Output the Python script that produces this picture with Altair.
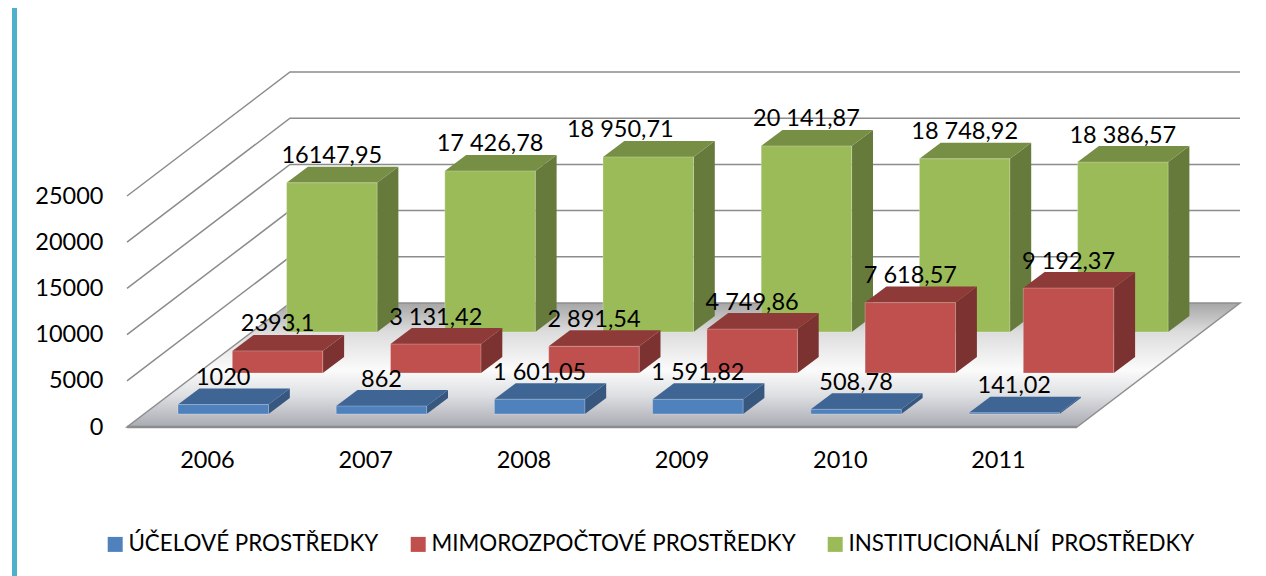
import altair as alt
import pandas as pd

YEARS = [2006, 2007, 2008, 2009, 2010, 2011]
SERIES = ["ÚČELOVÉ PROSTŘEDKY", "MIMOROZPOČTOVÉ PROSTŘEDKY", "INSTITUCIONÁLNÍ\u00a0 PROSTŘEDKY"]
BLUE = [1020, 862, 1601.05, 1591.82, 508.78, 141.02]
RED = [2393.1, 3131.42, 2891.54, 4749.86, 7618.57, 9192.37]
GREEN = [16147.95, 17426.78, 18950.71, 20141.87, 18748.92, 18386.57]
BLUE_LABELS = ["1020", "862", "1 601,05", "1 591,82", "508,78", "141,02"]
RED_LABELS = ["2393,1", "3 131,42", "2 891,54", "4 749,86", "7 618,57", "9 192,37"]
GREEN_LABELS = ["16147,95", "17 426,78", "18 950,71", "20 141,87", "18 748,92", "18 386,57"]
AXIS_VALUES = [0, 5000, 10000, 15000, 20000, 25000]
FRONT = ["#4f81bd", "#c0504d", "#9bbb59"]
TOP = ["#3e6594", "#8e3a38", "#778e45"]
SIDE = ["#37577f", "#7b3230", "#667a3b"]
LABEL_NUDGE_PX = {"18 950,71": -28}

FONT = "Lato"
W, H = 1113, 355
PX_PER_YEAR = 158.2
PX_PER_UNIT = 0.00924
XMIN = 2006 - 80 / PX_PER_YEAR
XMAX = XMIN + W / PX_PER_YEAR
YMAX = H / PX_PER_UNIT


def xu(px):
    return px / PX_PER_YEAR


def yu(px):
    return px / PX_PER_UNIT


BAR_L, BAR_W = xu(-29), xu(90.5)
BAR_DX, BAR_DY = xu(21.3), yu(16)
STEP_X, STEP_Y = xu(54.3), yu(41)
BASE0 = yu(13)
FLOOR_DX, FLOOR_DY = xu(163), yu(124)

xs = alt.Scale(domain=[XMIN, XMAX], zero=False, nice=False)
ys = alt.Scale(domain=[0, YMAX], zero=False, nice=False)

X_AXIS = alt.Axis(values=YEARS, domain=False, ticks=False, grid=False,
                  labelPadding=21, labelFontSize=23.5, labelFont=FONT, labelColor="#000000",
                  labelBound=False, labelFlush=False, labelOverlap=False, format="d")
Y_AXIS = alt.Axis(values=AXIS_VALUES, domain=False, ticks=False, grid=False,
                  labelPadding=24, labelFontSize=23.5, labelFont=FONT, labelColor="#000000",
                  labelBound=False, labelFlush=False, labelOverlap=False, format="d")


def X(field="x"):
    return alt.X(f"{field}:Q", scale=xs, axis=X_AXIS, stack=None, title=None)


def Y(field="y"):
    return alt.Y(f"{field}:Q", scale=ys, axis=Y_AXIS, stack=None, title=None)


rows_front, rows_side, rows_top, rows_text = [], [], [], []
all_vals = [BLUE, RED, GREEN]
all_labels = [BLUE_LABELS, RED_LABELS, GREEN_LABELS]
for s in range(3):
    for year, v, lab in zip(YEARS, all_vals[s], all_labels[s]):
        l = year + BAR_L + s * STEP_X
        r = l + BAR_W
        b = BASE0 + s * STEP_Y
        t = b + v
        fid = f"{s}-{year}"
        rows_front.append(dict(s=s, series=SERIES[s], x=l, x2=r, y=b, y2=t))
        rows_side.append(dict(s=s, id=fid, x=r, y=b, y2=t))
        rows_side.append(dict(s=s, id=fid, x=r + BAR_DX, y=b + BAR_DY, y2=t + BAR_DY))
        rows_top.append(dict(s=s, id=fid, y=t, x=l, x2=r))
        rows_top.append(dict(s=s, id=fid, y=t + BAR_DY, x=l + BAR_DX, x2=r + BAR_DX))
        rows_text.append(dict(x=(l + r) / 2 + xu(LABEL_NUDGE_PX.get(lab, 0)),
                              y=t + BAR_DY + yu(10.5), label=lab))

front = pd.DataFrame(rows_front)
side = pd.DataFrame(rows_side)
top = pd.DataFrame(rows_top)
text = pd.DataFrame(rows_text)

floor_df = pd.DataFrame([
    dict(y=0, x=XMIN, x2=XMAX - FLOOR_DX),
    dict(y=FLOOR_DY, x=XMIN + FLOOR_DX, x2=XMAX),
])
floor_grad = alt.Gradient(
    gradient="linear", x1=0, x2=0, y1=0, y2=1,
    stops=[
        alt.GradientStop(color="#a6a6a6", offset=0),
        alt.GradientStop(color="#dcdcdc", offset=0.23),
        alt.GradientStop(color="#fbfbfb", offset=0.54),
        alt.GradientStop(color="#dfe0e3", offset=0.74),
        alt.GradientStop(color="#a9abb3", offset=1),
    ],
)
floor = alt.Chart(floor_df).mark_area(
    orient="horizontal", color=floor_grad, stroke="#8f8f8f", strokeWidth=1.5
).encode(y=Y(), x=X(), x2="x2:Q")
edge_df = pd.DataFrame([dict(x=XMIN, y=0), dict(x=XMAX - FLOOR_DX, y=0)])
front_edge = alt.Chart(edge_df).mark_line(color="#8c8c8c", strokeWidth=2.5).encode(x=X(), y=Y())

wall_rows = []
for v in AXIS_VALUES[1:]:
    wall_rows += [dict(v=v, x=XMIN, y=v), dict(v=v, x=XMIN + FLOOR_DX, y=v + FLOOR_DY),
                  dict(v=v, x=XMAX, y=v + FLOOR_DY)]
walls = alt.Chart(pd.DataFrame(wall_rows)).mark_line(color="#8c8c8c", strokeWidth=1.5).encode(
    x=X(), y=Y(), detail="v:N"
)

accent_df = pd.DataFrame([dict(x=XMIN - xu(115), x2=XMIN - xu(110), y=YMAX + yu(72), y2=-yu(149))])
accent = alt.Chart(accent_df).mark_rect(color="#4fb0cc").encode(
    x=X(), x2="x2:Q", y=Y(), y2="y2:Q"
)

legend = alt.Legend(
    orient="none", legendX=-23, legendY=461, direction="horizontal",
    title=None, labelFont=FONT, labelFontSize=22.4, labelColor="#000000", symbolType="square",
    symbolSize=225, symbolStrokeWidth=0, labelOffset=2, columnPadding=28, labelLimit=500,
)

layers = [accent, walls, floor, front_edge]
for s in (2, 1, 0):
    layers.append(alt.Chart(side[side.s == s]).mark_area(color=SIDE[s]).encode(
        x=X(), y=Y(), y2="y2:Q", detail="id:N"))
    layers.append(alt.Chart(top[top.s == s]).mark_area(orient="horizontal", color=TOP[s]).encode(
        y=Y(), x=X(), x2="x2:Q", detail="id:N"))
    layers.append(alt.Chart(front[front.s == s]).mark_rect(
        stroke="#ffffff", strokeOpacity=0.25, strokeWidth=1
    ).encode(
        x=X(), x2="x2:Q", y=Y(), y2="y2:Q",
        color=alt.Color("series:N", scale=alt.Scale(domain=SERIES, range=FRONT), legend=legend)))
layers.append(alt.Chart(text).mark_text(font=FONT, fontSize=23.5, color="#000000", baseline="middle").encode(
    x=X(), y=Y(), text="label:N"))

chart = alt.layer(*layers).properties(
    width=W, height=H,
    autosize=alt.AutoSizeParams(type="none"),
    padding={"left": 119, "top": 64, "right": 18, "bottom": 149},
    background="white",
).configure_view(stroke=None)

chart.save("out.html", embed_options={"renderer": "svg", "actions": False})
